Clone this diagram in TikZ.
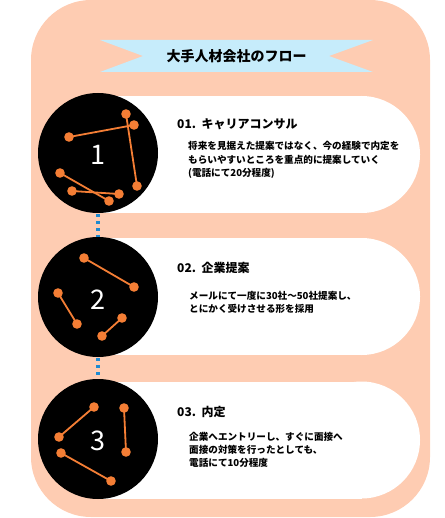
\documentclass[tikz,border=0pt]{standalone}
\usepackage{fontspec}
\setmainfont{Noto Sans CJK JP}
\definecolor{peach}{HTML}{FECCB2}
\definecolor{ribbon}{HTML}{C6ECFB}
\definecolor{orng}{HTML}{F47E35}
\definecolor{dotblue}{HTML}{1E8AD0}
\tikzset{
  bgbox/.style={fill=peach},
  pill/.style={fill=white},
  stepcircle/.style={circle, fill=black, minimum size=120pt, inner sep=0pt},
  digit/.style={text=white, font=\fontsize{27}{27}\selectfont, inner sep=0pt},
  steptitle/.style={anchor=west, inner sep=0pt, font=\bfseries\fontsize{12}{14}\selectfont},
  stepbody/.style={anchor=west, inner sep=0pt, align=left, font=\bfseries\fontsize{9.6}{13.2}\selectfont},
  seg/.style={draw=orng, line width=1.8pt},
  dotline/.style={draw=dotblue, line width=3.2pt, dash pattern=on 3.2pt off 3.8pt, dash phase=-1pt},
}
\begin{document}
\begin{tikzpicture}[x=1pt,y=-1pt]
\useasboundingbox (0,0) rectangle (444,518);
% background
\fill[bgbox, rounded corners=60pt] (31,0) rectangle (430,517);
% ribbon
\fill[ribbon] (100,40) -- (373,40) -- (329,56) -- (373,72) -- (100,72) -- (143,56) -- cycle;
\node[inner sep=0pt, font=\bfseries\fontsize{14}{16}\selectfont] (banner) at (236.5,56) {大手人材会社のフロー};
% pills
\foreach \cy in {154.5, 296.5, 440}{
  \fill[pill] (98,\cy-58.5) rectangle (361.5,\cy+58.5);
  \fill[pill] (361.5,\cy) circle (58.5);
}
% circles
\node[stepcircle] (c1) at (98,153) {};
\node[stepcircle] (c2) at (98,297) {};
\node[stepcircle] (c3) at (98,439) {};
% dotted connectors
\draw[dotline] (c1.south) -- (c2.north);
\draw[dotline] (c2.south) -- (c3.north);
% orange segments
\foreach \ax/\ay/\bx/\by in {69/137/134/125, 126/114/137/186, 60/173/109/201, 72/191/119/194,
  84/258/134/287, 58/293/77/324, 122/318/102/336,
  94/407/59/437, 124/408/126/452, 61/453/111/481}{
  \draw[seg] (\ax,\ay) -- (\bx,\by);
  \fill[orng] (\ax,\ay) circle (4.8);
  \fill[orng] (\bx,\by) circle (4.8);
}
% digits
\node[digit] (d1) at (98,155) {1};
\node[digit] (d2) at (98,300) {2};
\node[digit] (d3) at (98,441) {3};
% texts
\node[steptitle] (t1) at (177,124) {01.\ \ キャリアコンサル};
\node[stepbody] (b1) at (188,160) {将来を見据えた提案ではなく、今の経験で内定を\\もらいやすいところを重点的に提案していく\\(電話にて20分程度)};
\node[steptitle] (t2) at (177,268) {02.\ \ 企業提案};
\node[stepbody] (b2) at (189,302.5) {メールにて一度に30社〜50社提案し、\\とにかく受けさせる形を採用};
\node[steptitle] (t3) at (177,412) {03.\ \ 内定};
\node[stepbody] (b3) at (189,450) {企業へエントリーし、すぐに面接へ\\面接の対策を行ったとしても、\\電話にて10分程度};
\end{tikzpicture}
\end{document}
